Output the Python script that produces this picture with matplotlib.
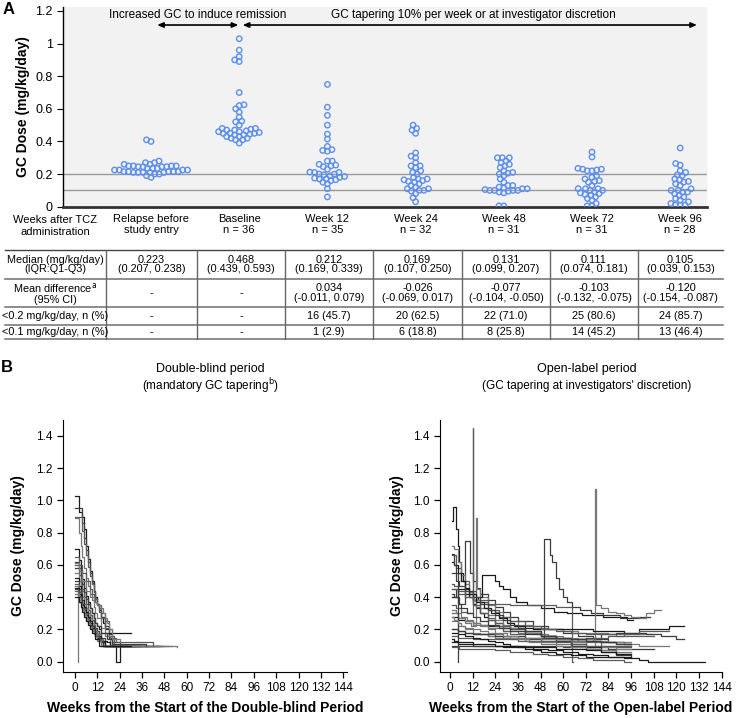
import matplotlib
matplotlib.use('Agg')
import matplotlib.pyplot as plt
import numpy as np

plt.rcParams['font.family'] = ['Liberation Sans', 'DejaVu Sans']

# ---------------- Panel A data ----------------
groups = ['Relapse before\nstudy entry', 'Baseline\nn = 36', 'Week 12\nn = 35', 'Week 24\nn = 32',
          'Week 48\nn = 31', 'Week 72\nn = 31', 'Week 96\nn = 28']
relapse = [0.41, 0.40, 0.28, 0.27, 0.27, 0.26, 0.26, 0.25, 0.25, 0.25, 0.25, 0.245, 0.245, 0.245, 0.245,
           0.235, 0.235, 0.235, 0.225, 0.225, 0.225, 0.225, 0.215, 0.215, 0.215, 0.215, 0.215, 0.21, 0.21,
           0.21, 0.21, 0.21, 0.20, 0.20, 0.19, 0.18]
baseline = [1.03, 0.96, 0.92, 0.90, 0.89, 0.70, 0.625, 0.62, 0.60, 0.58, 0.55, 0.525, 0.52, 0.50, 0.48, 0.48,
            0.475, 0.47, 0.47, 0.465, 0.46, 0.46, 0.455, 0.45, 0.45, 0.45, 0.445, 0.44, 0.44, 0.43, 0.43, 0.42,
            0.42, 0.41, 0.41, 0.39]
week12 = [0.75, 0.61, 0.56, 0.50, 0.445, 0.415, 0.37, 0.35, 0.345, 0.34, 0.28, 0.28, 0.26, 0.255, 0.25, 0.245,
          0.23, 0.212, 0.21, 0.21, 0.20, 0.20, 0.195, 0.19, 0.185, 0.18, 0.175, 0.17, 0.17, 0.165, 0.16, 0.15,
          0.14, 0.11, 0.06]
week24 = [0.50, 0.48, 0.47, 0.45, 0.33, 0.31, 0.30, 0.27, 0.25, 0.25, 0.24, 0.22, 0.21, 0.20, 0.18, 0.17,
          0.17, 0.165, 0.16, 0.155, 0.15, 0.14, 0.13, 0.12, 0.11, 0.11, 0.10, 0.10, 0.095, 0.08, 0.055, 0.03]
week48 = [0.30, 0.30, 0.30, 0.28, 0.27, 0.26, 0.25, 0.24, 0.22, 0.21, 0.205, 0.20, 0.19, 0.17, 0.15, 0.13,
          0.13, 0.12, 0.115, 0.11, 0.11, 0.105, 0.10, 0.10, 0.10, 0.10, 0.095, 0.09, 0.085, 0.005, 0.005]
week72 = [0.335, 0.305, 0.235, 0.23, 0.23, 0.225, 0.22, 0.22, 0.19, 0.18, 0.17, 0.16, 0.155, 0.15, 0.13,
          0.111, 0.11, 0.11, 0.10, 0.10, 0.09, 0.085, 0.08, 0.075, 0.07, 0.06, 0.05, 0.04, 0.02, 0.005, 0.005]
week96 = [0.36, 0.265, 0.255, 0.22, 0.21, 0.195, 0.19, 0.17, 0.165, 0.155, 0.15, 0.14, 0.13, 0.11, 0.10, 0.10,
          0.09, 0.09, 0.08, 0.07, 0.06, 0.05, 0.04, 0.03, 0.02, 0.01, 0.01, 0.01]
group_doses = [relapse, baseline, week12, week24, week48, week72, week96]

ytick_vals = [0, 0.2, 0.4, 0.6, 0.8, 1.0, 1.2]
ytick_labels = ['0', '0.2', '0.4', '0.6', '0.8', '1', '1.2']
ref_lines = [0.2, 0.1]

# ---------------- Table data ----------------
row_labels = ['Median (mg/kg/day)\n(IQR:Q1-Q3)', 'Mean difference$^{\\mathrm{a}}$\n(95% CI)',
              '<0.2 mg/kg/day, n (%)', '<0.1 mg/kg/day, n (%)']
median_row = ['0.223\n(0.207, 0.238)', '0.468\n(0.439, 0.593)', '0.212\n(0.169, 0.339)', '0.169\n(0.107, 0.250)',
              '0.131\n(0.099, 0.207)', '0.111\n(0.074, 0.181)', '0.105\n(0.039, 0.153)']
meandiff_row = ['-', '-', '0.034\n(-0.011, 0.079)', '-0.026\n(-0.069, 0.017)', '-0.077\n(-0.104, -0.050)',
                '-0.103\n(-0.132, -0.075)', '-0.120\n(-0.154, -0.087)']
lt02_row = ['-', '-', '16 (45.7)', '20 (62.5)', '22 (71.0)', '25 (80.6)', '24 (85.7)']
lt01_row = ['-', '-', '1 (2.9)', '6 (18.8)', '8 (25.8)', '14 (45.2)', '13 (46.4)']
table_rows = [median_row, meandiff_row, lt02_row, lt01_row]

# ---------------- Panel B data (step trajectories) ----------------
db_weeks = [
    [0, 2, 4, 5, 6, 7, 8, 9, 10, 11, 12, 13, 14, 15, 16, 18, 20, 46],
    [0, 2, 3, 4, 5, 6, 7, 8, 9, 10, 11, 12, 14, 16, 18, 20, 24, 35],
    [0, 2, 4, 5, 6, 7, 8, 9, 10, 11, 12, 13, 14, 16, 18, 21, 52],
    [0, 2, 3, 4, 5, 6, 7, 8, 9, 10, 11, 12, 14, 16, 19, 55],
    [0, 2, 3, 4, 5, 6, 7, 8, 9, 10, 11, 12, 13, 14, 16, 30],
    [0, 2, 3, 4, 5, 6, 7, 8, 9, 10, 11, 12, 13, 14, 16, 36],
    [0, 2, 3, 4, 5, 6, 7, 8, 9, 10, 11, 12, 14, 16, 24],
    [0, 2, 3, 4, 5, 6, 7, 8, 9, 10, 11, 12, 13, 15, 28],
    [0, 2, 3, 4, 5, 6, 7, 8, 9, 10, 11, 12, 14, 17, 19, 22, 24, 40],
    [0, 2, 3, 4, 5, 6, 7, 8, 9, 10, 11, 12, 13, 15, 34],
    [0, 2, 3, 4, 5, 6, 7, 8, 9, 10, 11, 13, 15, 47],
    [0, 1.5, 1.6],
    [0, 2, 3, 4, 5, 6, 7, 8, 9, 10, 11, 12, 14, 16, 26],
    [0, 2, 3, 4, 5, 6, 7, 8, 9, 10, 11, 13, 15, 32],
    [0, 2, 3, 4, 5, 6, 7, 8, 9, 10, 12, 14, 45],
    [0, 2, 3, 4, 5, 6, 7, 8, 9, 10, 12, 14, 50],
    [0, 2, 3, 4, 5, 6, 7, 8, 9, 11, 13, 30],
    [0, 2, 3, 4, 5, 6, 7, 8, 9, 10, 11, 12, 14, 17, 20, 38],
    [0, 2, 4, 6, 8, 9, 10, 11, 12, 13, 14, 16, 18, 20, 22, 42],
    [0, 2, 4, 6, 8, 10, 12, 14, 15, 16, 17, 18, 20, 24],
]
db_doses = [
    [1.03, 0.93, 0.90, 0.82, 0.72, 0.64, 0.56, 0.50, 0.44, 0.40, 0.36, 0.32, 0.28, 0.24, 0.20, 0.15, 0.10, 0.10],
    [0.955, 0.955, 0.955, 0.86, 0.77, 0.69, 0.62, 0.55, 0.49, 0.44, 0.39, 0.35, 0.28, 0.22, 0.17, 0.12, 0.10, 0.10],
    [0.90, 0.90, 0.81, 0.73, 0.66, 0.59, 0.53, 0.48, 0.43, 0.39, 0.35, 0.31, 0.27, 0.21, 0.16, 0.10, 0.10],
    [0.89, 0.80, 0.72, 0.65, 0.58, 0.52, 0.47, 0.42, 0.38, 0.34, 0.30, 0.27, 0.21, 0.16, 0.10, 0.09],
    [0.70, 0.63, 0.57, 0.51, 0.46, 0.41, 0.37, 0.33, 0.30, 0.27, 0.24, 0.22, 0.20, 0.18, 0.175, 0.175],
    [0.62, 0.56, 0.50, 0.45, 0.40, 0.36, 0.32, 0.29, 0.26, 0.23, 0.21, 0.19, 0.17, 0.15, 0.10, 0.10],
    [0.60, 0.54, 0.49, 0.44, 0.40, 0.36, 0.32, 0.29, 0.26, 0.23, 0.20, 0.17, 0.13, 0.10, 0.10],
    [0.55, 0.50, 0.45, 0.40, 0.36, 0.33, 0.30, 0.27, 0.24, 0.21, 0.19, 0.17, 0.14, 0.10, 0.10],
    [0.52, 0.47, 0.42, 0.38, 0.34, 0.31, 0.28, 0.25, 0.22, 0.20, 0.18, 0.16, 0.13, 0.12, 0.10, 0.0, 0.10, 0.10],
    [0.50, 0.45, 0.40, 0.36, 0.33, 0.30, 0.27, 0.24, 0.22, 0.20, 0.18, 0.16, 0.13, 0.10, 0.10],
    [0.48, 0.43, 0.39, 0.35, 0.32, 0.29, 0.26, 0.23, 0.21, 0.19, 0.16, 0.13, 0.10, 0.10],
    [0.47, 0.0, 0.0],
    [0.46, 0.42, 0.38, 0.35, 0.32, 0.29, 0.26, 0.24, 0.21, 0.19, 0.17, 0.15, 0.12, 0.10, 0.10],
    [0.45, 0.41, 0.37, 0.33, 0.30, 0.27, 0.25, 0.22, 0.20, 0.18, 0.16, 0.13, 0.10, 0.10],
    [0.44, 0.40, 0.36, 0.33, 0.30, 0.27, 0.24, 0.22, 0.20, 0.18, 0.14, 0.10, 0.10],
    [0.42, 0.38, 0.35, 0.32, 0.29, 0.26, 0.24, 0.21, 0.19, 0.17, 0.13, 0.10, 0.10],
    [0.40, 0.37, 0.34, 0.31, 0.28, 0.25, 0.23, 0.20, 0.18, 0.14, 0.10, 0.10],
    [0.58, 0.58, 0.53, 0.48, 0.43, 0.39, 0.36, 0.33, 0.30, 0.27, 0.24, 0.22, 0.18, 0.14, 0.11, 0.10],
    [0.65, 0.60, 0.55, 0.50, 0.45, 0.42, 0.40, 0.37, 0.36, 0.33, 0.30, 0.25, 0.20, 0.15, 0.12, 0.10],
    [0.61, 0.56, 0.50, 0.44, 0.40, 0.37, 0.35, 0.33, 0.30, 0.27, 0.24, 0.20, 0.14, 0.12],
]

ol_weeks = [
    [1, 1.5, 3, 4, 5, 6, 7, 8, 10, 12, 14, 16, 18, 20, 24, 28, 32, 40, 48, 56, 64, 72, 80, 88, 96],
    [1, 3, 5, 8, 10.5, 12, 14, 16, 20, 24, 28, 32, 36, 44, 52, 60, 68, 76, 84, 92, 96],
    [1, 3, 6, 9, 12, 12.4, 14, 16, 20, 24, 28, 32, 40, 48, 56, 64, 72, 80, 88, 96],
    [1, 4, 8, 11, 14, 14.4, 16, 20, 24, 28, 32, 36, 44, 52, 60, 68, 76, 84, 92, 100, 108],
    [1, 4, 8, 12, 15, 17, 24, 26, 28, 32, 35, 41, 48, 55, 62, 70, 81, 94, 97],
    [1, 4, 8, 12, 16, 20, 24, 28, 32, 36, 40, 44, 50, 53, 54, 56, 58, 60, 62, 64.5, 69, 75, 81, 90, 100, 106],
    [1, 4, 8, 12, 16, 20, 24, 32, 40, 48, 56, 60, 64.5, 65],
    [1, 4, 8, 12, 16, 20, 24, 32, 40, 48, 56, 64, 72, 77, 77.4, 80, 84, 88, 92, 96, 100, 104, 108, 112],
    [1, 4, 8, 12, 16, 20, 28, 36, 44, 52, 60, 68, 76, 84, 92, 100, 108, 116, 124],
    [1, 4, 8, 12, 16, 24, 32, 40, 48, 56, 64, 72, 80, 88, 96, 104, 112, 120, 124],
    [1, 4, 8, 12, 20, 28, 36, 44, 52, 60, 68, 76, 84, 92, 100, 108, 116],
    [1, 4, 8, 12, 20, 28, 36, 44, 52, 60, 68, 76, 84, 92, 100, 108, 116],
    [1, 4, 8, 12, 20, 28, 36, 44, 52, 60, 68, 76, 84, 92, 100, 105, 135],
    [1, 4, 8, 12, 20, 28, 36, 44, 52, 60, 68, 76, 84, 92, 100, 108],
    [1, 3, 6, 10, 14, 20, 26, 32, 40, 48, 56, 64, 72, 80, 88, 96, 104, 108],
    [1, 2, 4, 6, 8, 10, 12, 16, 20, 24, 28, 32, 40, 48, 56, 64, 72, 80, 88, 96],
    [1, 2, 4, 6, 8, 10, 14, 18, 22, 26, 30, 34, 40, 48, 56, 64, 72, 80, 88, 96],
    [1, 3, 5, 8, 12, 16, 20, 24, 28, 32, 36, 40, 48, 56, 64, 72, 80, 88, 96],
    [1, 2, 4, 8, 12, 16, 20, 24, 28, 32, 40, 48, 56, 64, 72, 80, 88, 96],
    [1, 3, 6, 9, 12, 16, 20, 24, 30, 36, 42, 48, 56, 64, 72, 80, 88, 96],
    [1, 4, 8, 12, 16, 20, 24, 28, 32, 36, 40, 44, 48, 56, 64, 72, 80, 88, 96],
    [1, 2, 3, 4.4, 4.5],
    [1, 3, 5, 8, 12, 16, 20, 24, 28, 32, 36, 44, 52, 60, 68, 76, 84, 92, 96],
    [1, 2, 4, 6, 8, 12, 16, 20, 24, 28, 32, 40, 48, 56, 64, 72, 80, 88, 96],
    [1, 2, 4, 8, 12, 16, 24, 32, 40, 48, 56, 64, 72, 80, 88, 96],
    [1, 2, 4, 6, 9, 12, 16, 20, 26, 32, 40, 48, 56, 64, 72, 80, 88, 96],
]
ol_doses = [
    [0.87, 0.96, 0.82, 0.72, 0.62, 0.55, 0.50, 0.45, 0.40, 0.36, 0.33, 0.30, 0.28, 0.26, 0.24, 0.22, 0.20, 0.18,
     0.16, 0.15, 0.14, 0.13, 0.12, 0.11, 0.11],
    [0.45, 0.40, 0.36, 0.75, 0.55, 0.50, 0.46, 0.42, 0.38, 0.34, 0.31, 0.28, 0.25, 0.22, 0.20, 0.18, 0.16, 0.14,
     0.12, 0.11, 0.11],
    [0.35, 0.33, 0.31, 0.30, 1.45, 0.38, 0.34, 0.30, 0.27, 0.24, 0.22, 0.20, 0.18, 0.16, 0.15, 0.13, 0.12, 0.10,
     0.09, 0.09],
    [0.30, 0.27, 0.24, 0.22, 0.89, 0.45, 0.40, 0.35, 0.31, 0.28, 0.25, 0.23, 0.21, 0.20, 0.19, 0.18, 0.18, 0.17,
     0.17, 0.17, 0.17],
    [0.40, 0.45, 0.42, 0.38, 0.40, 0.54, 0.50, 0.47, 0.45, 0.40, 0.37, 0.35, 0.33, 0.31, 0.30, 0.29, 0.28, 0.26,
     0.26],
    [0.20, 0.19, 0.18, 0.17, 0.17, 0.16, 0.16, 0.15, 0.15, 0.15, 0.14, 0.14, 0.76, 0.66, 0.62, 0.52, 0.45, 0.40,
     0.37, 0.34, 0.32, 0.30, 0.29, 0.27, 0.28, 0.28],
    [0.45, 0.42, 0.40, 0.38, 0.37, 0.36, 0.36, 0.35, 0.35, 0.35, 0.34, 0.34, 0.0, 0.0],
    [0.25, 0.22, 0.20, 0.18, 0.17, 0.16, 0.15, 0.14, 0.13, 0.12, 0.11, 0.10, 0.09, 1.07, 0.35, 0.33, 0.31, 0.30,
     0.29, 0.28, 0.27, 0.30, 0.32, 0.32],
    [0.28, 0.26, 0.25, 0.24, 0.23, 0.22, 0.21, 0.21, 0.20, 0.20, 0.20, 0.20, 0.19, 0.19, 0.18, 0.20, 0.20, 0.22,
     0.22],
    [0.20, 0.19, 0.18, 0.17, 0.17, 0.16, 0.16, 0.15, 0.15, 0.14, 0.14, 0.15, 0.17, 0.18, 0.18, 0.17, 0.16, 0.14,
     0.14],
    [0.16, 0.15, 0.15, 0.14, 0.14, 0.14, 0.13, 0.13, 0.13, 0.13, 0.14, 0.15, 0.16, 0.17, 0.19, 0.19, 0.19],
    [0.30, 0.27, 0.25, 0.23, 0.21, 0.19, 0.18, 0.17, 0.16, 0.15, 0.14, 0.13, 0.12, 0.11, 0.10, 0.10, 0.10],
    [0.12, 0.11, 0.11, 0.10, 0.10, 0.09, 0.09, 0.08, 0.07, 0.06, 0.05, 0.04, 0.03, 0.02, 0.01, 0.0, 0.0],
    [0.10, 0.10, 0.10, 0.10, 0.10, 0.10, 0.10, 0.10, 0.10, 0.09, 0.09, 0.09, 0.08, 0.08, 0.08, 0.08],
    [0.66, 0.58, 0.50, 0.44, 0.38, 0.32, 0.28, 0.25, 0.22, 0.20, 0.19, 0.18, 0.17, 0.17, 0.16, 0.16, 0.16, 0.16],
    [0.72, 0.70, 0.62, 0.54, 0.48, 0.43, 0.38, 0.33, 0.29, 0.26, 0.23, 0.21, 0.18, 0.16, 0.14, 0.12, 0.10, 0.09,
     0.08, 0.08],
    [0.62, 0.60, 0.55, 0.50, 0.46, 0.42, 0.37, 0.33, 0.30, 0.27, 0.24, 0.22, 0.19, 0.16, 0.13, 0.11, 0.09, 0.07,
     0.05, 0.05],
    [0.55, 0.50, 0.47, 0.44, 0.40, 0.36, 0.32, 0.29, 0.26, 0.23, 0.21, 0.19, 0.16, 0.13, 0.10, 0.08, 0.06, 0.04,
     0.03],
    [0.48, 0.47, 0.44, 0.40, 0.35, 0.30, 0.26, 0.22, 0.19, 0.17, 0.15, 0.13, 0.12, 0.11, 0.10, 0.10, 0.10, 0.10],
    [0.32, 0.30, 0.28, 0.26, 0.24, 0.22, 0.20, 0.18, 0.16, 0.14, 0.12, 0.11, 0.10, 0.09, 0.08, 0.07, 0.06, 0.06],
    [0.18, 0.17, 0.16, 0.15, 0.14, 0.13, 0.12, 0.11, 0.10, 0.09, 0.08, 0.07, 0.06, 0.05, 0.04, 0.03, 0.03, 0.03,
     0.03],
    [0.67, 0.60, 0.55, 0.0, 0.0],
    [0.09, 0.09, 0.08, 0.08, 0.08, 0.08, 0.08, 0.07, 0.07, 0.06, 0.06, 0.05, 0.04, 0.03, 0.02, 0.01, 0.01, 0.0,
     0.0],
    [0.28, 0.26, 0.24, 0.22, 0.21, 0.20, 0.19, 0.18, 0.17, 0.16, 0.15, 0.15, 0.14, 0.14, 0.13, 0.13, 0.12, 0.12,
     0.12],
    [0.14, 0.13, 0.12, 0.12, 0.11, 0.11, 0.10, 0.10, 0.09, 0.09, 0.08, 0.08, 0.07, 0.06, 0.05, 0.05],
    [0.42, 0.40, 0.36, 0.33, 0.30, 0.28, 0.25, 0.23, 0.21, 0.19, 0.17, 0.16, 0.15, 0.14, 0.13, 0.12, 0.11, 0.11],
]
week_ticks = list(range(0, 145, 12))
b_ytick_vals = [0.0, 0.2, 0.4, 0.6, 0.8, 1.0, 1.2, 1.4]

# ---------------- Figure ----------------
W, H = 740, 718
fig = plt.figure(figsize=(W / 100, H / 100), dpi=100)


def fx(px):
    return px / W


def fy(py):
    return 1 - py / H


def beeswarm_offsets(y_px, d):
    """Classic beeswarm: place each point (sorted by value) at the offset nearest the centre without collision."""
    y_px = np.asarray(y_px, dtype=float)
    xs = np.zeros(len(y_px))
    placed = []
    for i in np.argsort(y_px, kind='stable'):
        y = y_px[i]
        cands = [0.0]
        for px_, py_ in placed:
            dy = abs(py_ - y)
            if dy < d:
                dx = np.sqrt(d * d - dy * dy)
                cands += [px_ - dx, px_ + dx]
        cands.sort(key=lambda c: (abs(c), c))
        for c in cands:
            if all((c - px_) ** 2 + (y - py_) ** 2 >= d * d - 1e-6 for px_, py_ in placed):
                xs[i] = c
                break
        placed.append((xs[i], y))
    return xs


# overlay axes in pixel coordinates for table and headings
ov = fig.add_axes([0, 0, 1, 1])
ov.set_xlim(0, W)
ov.set_ylim(H, 0)
ov.axis('off')

# ---- Panel A ----
axA = fig.add_axes([fx(63), fy(206.7), (707 - 63) / W, (206.7 - 7) / H])
axA.set_facecolor('#f2f2f2')
axA.set_xlim(-0.998, 6.304)
axA.set_ylim(0, 1.2245)
# pixel scale of the data axes (for swarm layout)
p0 = axA.transData.transform((0, 0))
p1 = axA.transData.transform((1, 1))
px_per_x = p1[0] - p0[0]
px_per_y = p1[1] - p0[1]
for gi, vals in enumerate(group_doses):
    off = beeswarm_offsets(np.array(vals) * px_per_y, 4.8)
    axA.scatter(gi + off / px_per_x, vals, s=15, facecolors='none', edgecolors='#5b8ef0',
                linewidths=1.0, zorder=3)
for v in ref_lines:
    axA.axhline(v, color='#9a9a9a', lw=1.0, zorder=1)
axA.set_xticks(range(len(groups)))
axA.set_xticklabels(groups, fontsize=8)
axA.tick_params(axis='x', length=0, pad=5)
axA.set_yticks(ytick_vals)
axA.set_yticklabels(ytick_labels, fontsize=9)
axA.tick_params(axis='y', length=4, width=0.8)
axA.set_ylabel('GC Dose (mg/kg/day)', fontweight='bold', fontsize=10)
axA.yaxis.label.set_va('center')
axA.yaxis.set_label_coords((23 - 63) / 644, 0.5)
for s in ['top', 'right']:
    axA.spines[s].set_visible(False)
axA.spines['left'].set_linewidth(1.0)
axA.spines['bottom'].set_linewidth(2.0)
axA.spines['bottom'].set_color('#333333')

arrow_style = dict(arrowstyle='<|-|>,head_length=0.35,head_width=0.15', color='black', lw=1.2,
                   shrinkA=0, shrinkB=0)
axA.annotate('', xy=(0.99, 1.114), xytext=(0.07, 1.114), arrowprops=arrow_style, annotation_clip=False)
axA.annotate('', xy=(6.19, 1.114), xytext=(1.04, 1.114), arrowprops=arrow_style, annotation_clip=False)
axA.text(0.527, 1.175, 'Increased GC to induce remission', ha='center', va='center', fontsize=8.5)
axA.text(3.65, 1.175, 'GC tapering 10% per week or at investigator discretion', ha='center', va='center',
         fontsize=8.5)

ov.text(9, 10, 'A', fontsize=12, fontweight='bold', ha='center', va='center')
ov.text(55, 226, 'Weeks after TCZ\nadministration', fontsize=8, ha='center', va='center')

# ---- Table ----
col_edges = [5, 106, 197, 285, 373, 462, 550, 638, 723]
row_edges = [250, 279, 307, 325, 339]
col_centers = [(col_edges[i] + col_edges[i + 1]) / 2 for i in range(len(col_edges) - 1)]
row_centers = [(row_edges[i] + row_edges[i + 1]) / 2 for i in range(len(row_edges) - 1)]
for k, y in enumerate(row_edges):
    ov.plot([col_edges[0], col_edges[-1]], [y, y], color='#444444' if k == 0 else '#7a7a7a',
            lw=1.0 if k == 0 else 1.2)
for x in col_edges[1:-1]:
    ov.plot([x, x], [row_edges[0], row_edges[-1]], color='#666666', lw=1.0)
for r, (lab, vals) in enumerate(zip(row_labels, table_rows)):
    ov.text(col_centers[0], row_centers[r], lab, ha='center', va='center', fontsize=7.8, linespacing=0.95)
    for c, v in enumerate(vals):
        ov.text(col_centers[c + 1], row_centers[r], v, ha='center', va='center', fontsize=7.8,
                linespacing=0.95)

# ---- Panel B ----
ov.text(7, 367, 'B', fontsize=12, fontweight='bold', ha='center', va='center')
ov.text(210, 369, 'Double-blind period', fontsize=9, ha='center', va='center')
ov.text(210, 386, '(mandatory GC tapering$^{\\mathrm{b}}$)', fontsize=8.5, ha='center', va='center')
ov.text(587, 369, 'Open-label period', fontsize=9, ha='center', va='center')
ov.text(587, 386, "(GC tapering at investigators' discretion)", fontsize=8.5, ha='center', va='center')

line_colors = ['#1a1a1a', '#3c3c3c', '#5a5a5a', '#777777']


def style_b(ax, xlabel, xlim, ylab_x):
    ax.set_xlim(*xlim)
    ax.set_ylim(-0.062, 1.499)
    ax.set_xticks(week_ticks)
    ax.set_xticklabels([str(w) for w in week_ticks], fontsize=8.5)
    ax.set_yticks(b_ytick_vals)
    ax.set_yticklabels(['%.1f' % v for v in b_ytick_vals], fontsize=8.5)
    ax.tick_params(direction='out', length=4, width=0.9)
    for s in ['top', 'right']:
        ax.spines[s].set_visible(False)
    ax.set_xlabel(xlabel, fontweight='bold', fontsize=10)
    ax.xaxis.label.set_va('center')
    ax.xaxis.set_label_coords(0.5, -0.144)
    ax.set_ylabel('GC Dose (mg/kg/day)', fontweight='bold', fontsize=10)
    ax.yaxis.label.set_va('center')
    ax.yaxis.set_label_coords(ylab_x, 0.5)
    ax.set_facecolor('none')


axL = fig.add_axes([fx(63), fy(671.7), (347 - 63) / W, (671.7 - 420) / H])
for i, (w, d) in enumerate(zip(db_weeks, db_doses)):
    axL.step(w, d, where='post', color=line_colors[i % 4], lw=0.9)
style_b(axL, 'Weeks from the Start of the Double-blind Period', (-6.44, 146), (18 - 63) / 284)

axR = fig.add_axes([fx(440), fy(671.7), (722 - 440) / W, (671.7 - 420) / H])
for i, (w, d) in enumerate(zip(ol_weeks, ol_doses)):
    axR.step(w, d, where='post', color=line_colors[i % 4], lw=0.9)
style_b(axR, 'Weeks from the Start of the Open-label Period', (-5.3, 144.2), (397.5 - 440) / 282)

fig.savefig('out.png', dpi=100)
